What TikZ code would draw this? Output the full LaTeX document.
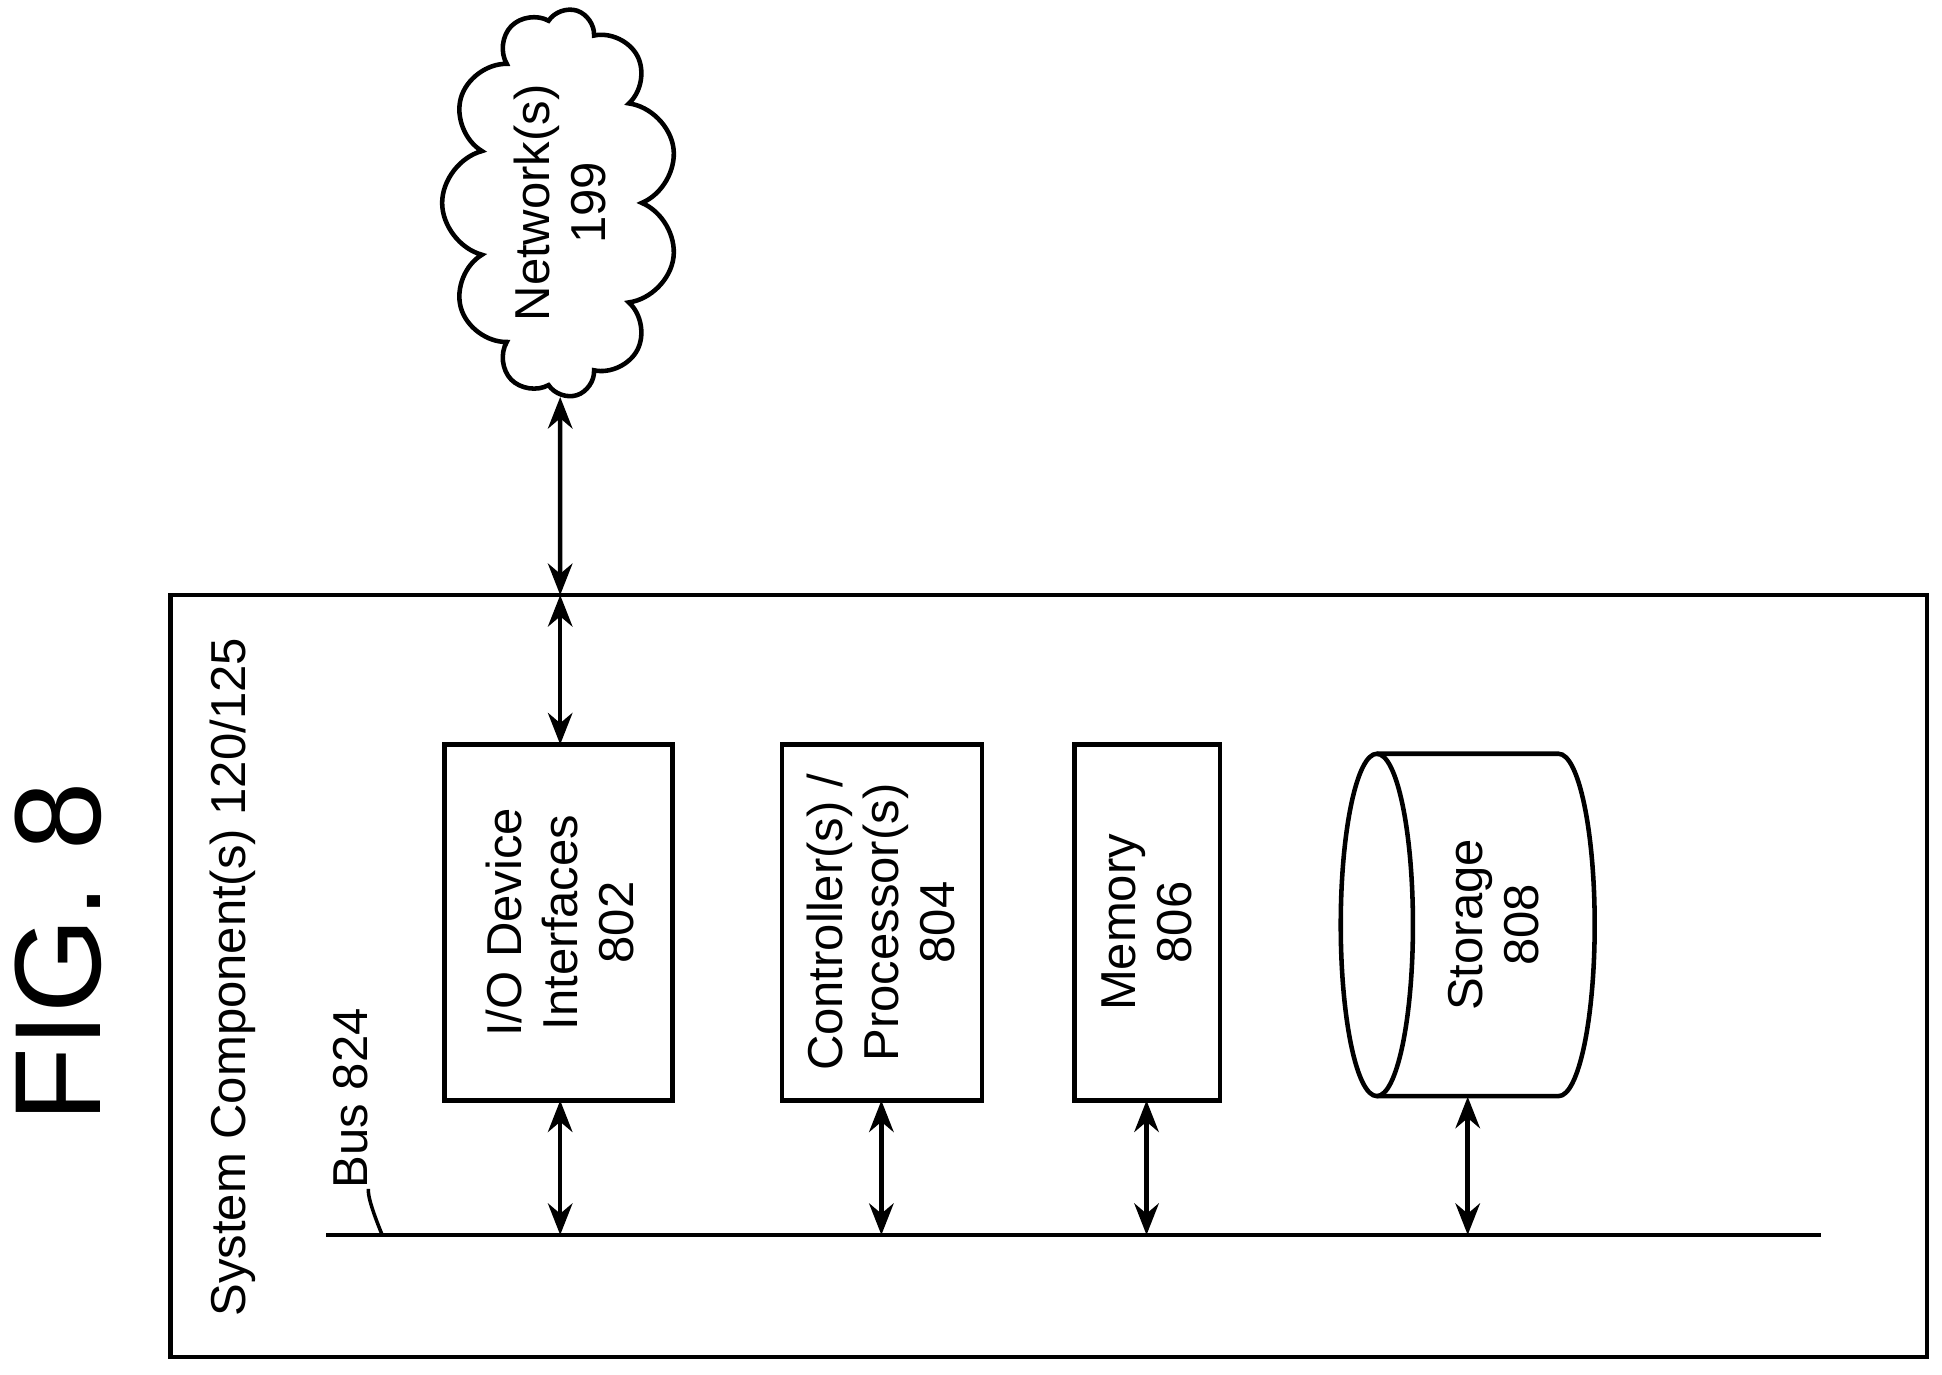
\documentclass[tikz,border=0pt]{standalone}
\usepackage{fontspec}
\setmainfont{Liberation Sans}
\usetikzlibrary{arrows.meta,shapes.symbols}
\tikzset{
  box/.style={draw, line width=1.3pt},
  lbl/.style={rotate=90, align=center, font=\fontsize{14}{16}\selectfont},
  link/.style={{Stealth[length=9pt,width=7pt]}-{Stealth[length=9pt,width=7pt]}, line width=1.3pt}
}
\begin{document}
\begin{tikzpicture}[x=0.0125cm, y=-0.0125cm]
  \useasboundingbox (0,0) rectangle (1560,1104);
  % frame and titles
  \draw [box] (137,478) rectangle (1548,1090);
  \node [lbl, font=\fontsize{35}{40}\selectfont] (fig) at (47,765) {FIG. 8};
  \node [lbl] (sys) at (187,785) {System Component(s) 120/125};
  % network cloud
  \node [cloud, draw, line width=1.3pt, cloud puffs=11, cloud ignores aspect,
         minimum width=238*0.0125cm, minimum height=125*0.0125cm, rotate=90,
         align=center, font=\fontsize{14}{16}\selectfont] (net) at (450,163) {Network(s)\\199};
  \coordinate (top) at (450,478);
  % components
  \draw [box] (357,598) rectangle (540,884);
  \node [lbl] (io) at (450,741) {I/O Device\\Interfaces\\802};
  \draw [box] (628,598) rectangle (789,884);
  \node [lbl] (cpu) at (708,741) {Controller(s) /\\Processor(s)\\804};
  \draw [box] (863,598) rectangle (980,884);
  \node [lbl] (mem) at (921,741) {Memory\\806};
  \draw [box] (1106,743) ellipse [x radius=29, y radius=137.5];
  \draw [box] (1106,605.5) -- (1252,605.5) arc [start angle=-90, end angle=90, x radius=29, y radius=137.5] -- (1106,880.5);
  \node [lbl] (stor) at (1200,743) {Storage\\808};
  \coordinate (sb) at (1179,881);
  % bus
  \coordinate (bs) at (262,992);
  \coordinate (be) at (1463,992);
  \draw [line width=1.3pt] (bs) -- (be);
  \node [lbl, anchor=south west, inner sep=0pt] (bus) at (296,955) {Bus 824};
  \draw [line width=1pt] (307,992) .. controls (300,975) and (295,960) .. (296,955);
  % connectors
  \draw [link] (net.west) -- (top);
  \draw [link] (top) -- (450,598);
  \draw [link] (450,884) -- (450,992);
  \draw [link] (708,884) -- (708,992);
  \draw [link] (921,884) -- (921,992);
  \draw [link] (sb) -- (1179,992);
\end{tikzpicture}
\end{document}
